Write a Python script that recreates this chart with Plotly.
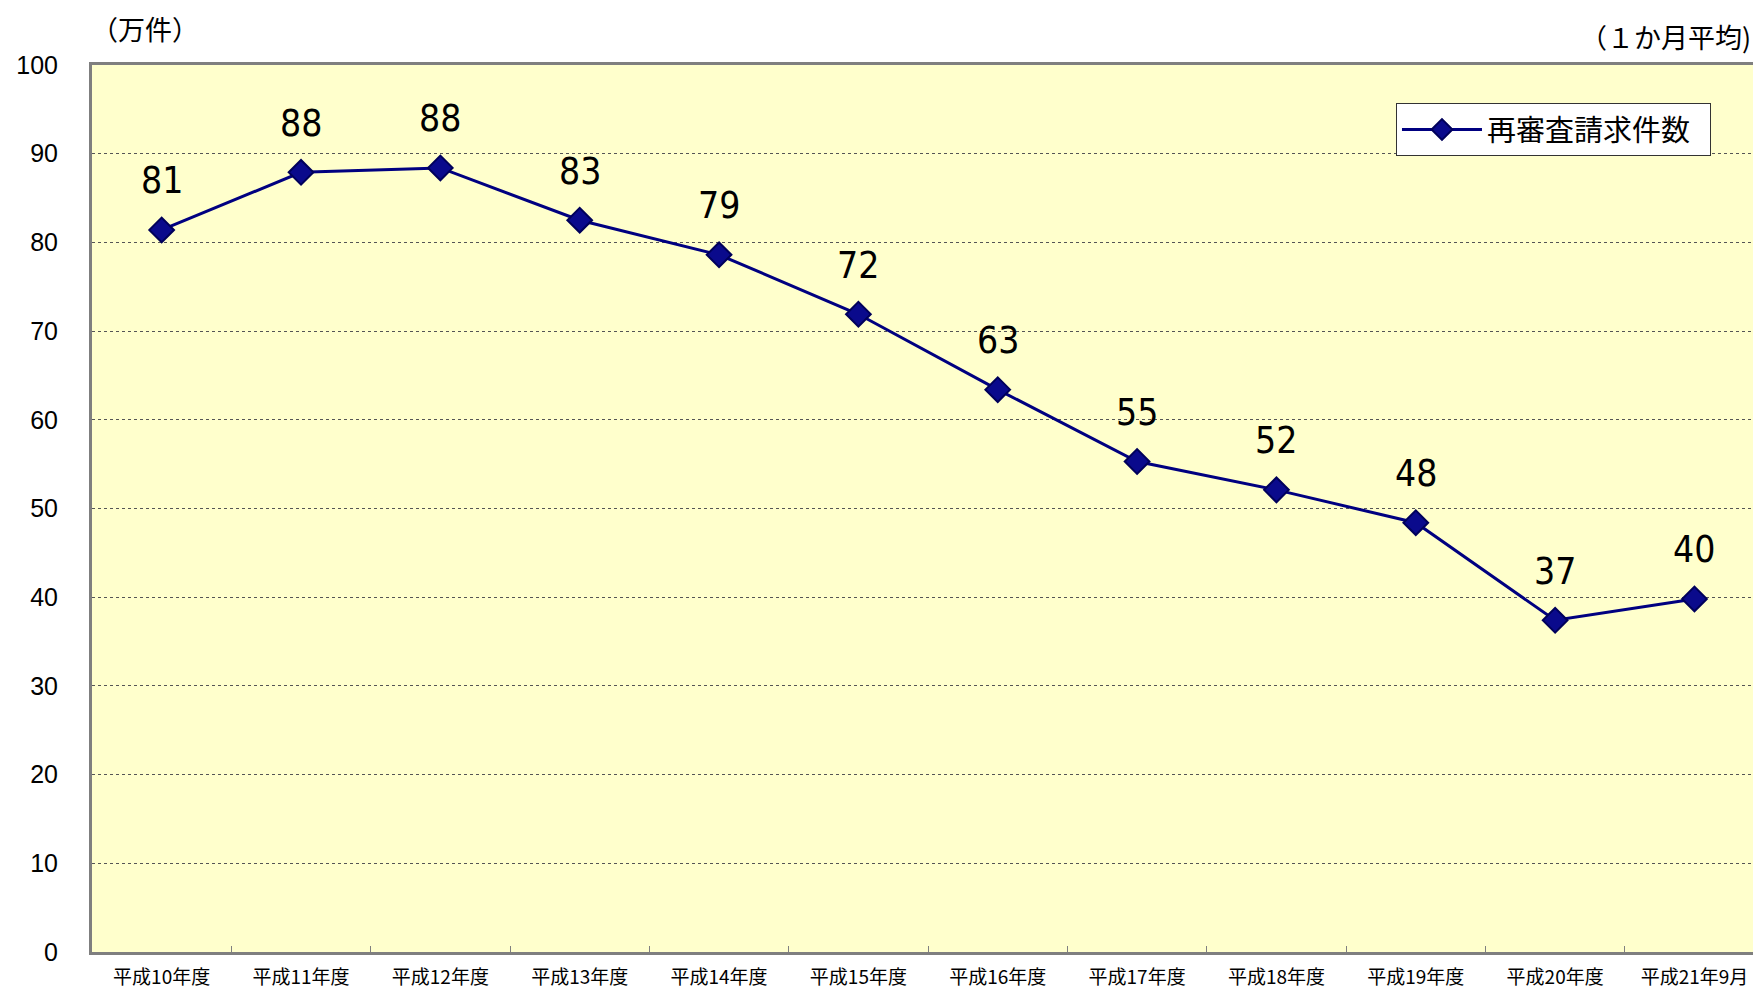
import plotly.graph_objects as go

categories = ["平成10年度", "平成11年度", "平成12年度", "平成13年度", "平成14年度", "平成15年度",
              "平成16年度", "平成17年度", "平成18年度", "平成19年度", "平成20年度", "平成21年9月"]
values = [81.4, 87.9, 88.4, 82.5, 78.6, 71.9, 63.4, 55.3, 52.1, 48.4, 37.4, 39.8]
labels = ["81", "88", "88", "83", "79", "72", "63", "55", "52", "48", "37", "40"]
series_name = "再審査請求件数"
y_ticks = [0, 10, 20, 30, 40, 50, 60, 70, 80, 90, 100]

fig = go.Figure()
fig.add_trace(go.Scatter(
    x=categories, y=values, name=series_name + "\u2002", mode="lines+markers",
    line=dict(color="#000080", width=3),
    marker=dict(symbol="diamond", size=19, color="#0a0a8c",
                line=dict(color="#00005a", width=2)),
    showlegend=True,
))

for c, v, t in zip(categories, values, labels):
    fig.add_annotation(x=c, y=v, text=t, showarrow=False, yshift=49,
                       font=dict(family="Liberation Sans Narrow, DejaVu Sans Condensed, sans-serif",
                                 size=37, color="#000000"))

fig.add_annotation(xref="paper", yref="paper", x=-0.002, y=1.0, yshift=37, text="（万件）",
                   showarrow=False, xanchor="left", yanchor="middle",
                   font=dict(family="Noto Sans CJK JP", size=27, color="#000000"))
fig.add_annotation(xref="paper", yref="paper", x=1.0, y=1.0, yshift=29, text="（１か月平均)",
                   showarrow=False, xanchor="right", yanchor="middle",
                   font=dict(family="Noto Sans CJK JP", size=27, color="#000000"))

fig.update_layout(
    width=1753, height=988,
    margin=dict(l=92, r=0, t=65, b=36),
    paper_bgcolor="#ffffff", plot_bgcolor="#ffffcc",
    legend=dict(x=0.9747, y=0.957, xanchor="right", yanchor="top",
                bgcolor="#ffffff", bordercolor="#333333", borderwidth=1,
                font=dict(family="Noto Sans CJK JP", size=29, color="#000000"),
                itemwidth=80),
    xaxis=dict(
        type="category", range=[-0.5, 11.42],
        showline=True, linecolor="#7f7f7f", linewidth=3, mirror=True,
        ticks="inside", tickson="boundaries", ticklen=6, tickcolor="#7f7f7f", tickwidth=1,
        showgrid=False, automargin=False, ticklabelstandoff=6,
        tickfont=dict(family="Noto Sans CJK JP", size=19, color="#000000"),
    ),
    yaxis=dict(
        range=[0, 100], tickvals=y_ticks,
        showline=True, linecolor="#7f7f7f", linewidth=3,
        ticks="", showgrid=True, gridcolor="#555555", gridwidth=1, griddash="3px,3px",
        zeroline=False, automargin=False, ticklabelstandoff=26,
        tickfont=dict(family="Liberation Sans, Arial, sans-serif", size=25, color="#000000"),
    ),
)

fig.write_html("out.html", config={"displayModeBar": False},
               post_script="document.body.style.margin='0';document.body.style.overflow='hidden';")
